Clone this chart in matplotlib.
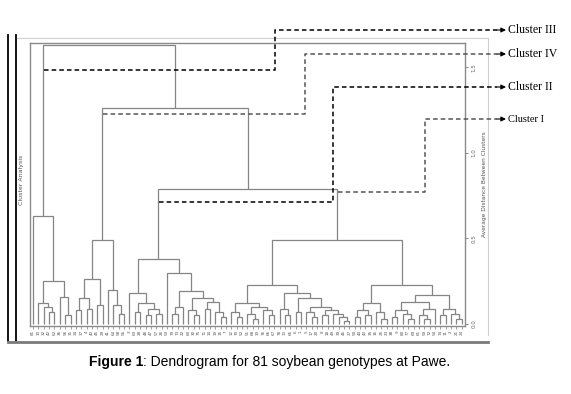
import matplotlib
matplotlib.use('Agg')
import matplotlib.pyplot as plt

# ---------------- data ----------------
leaf_labels = [81, 10, 32, 42, 62, 36, 56, 31, 34, 37, 4, 40, 45, 29, 41, 64, 58, 55, 3, 63,
               28, 48, 47, 57, 26, 53, 79, 73, 22, 60, 30, 75, 71, 14, 19, 15, 7, 12, 70, 52,
               51, 68, 33, 76, 66, 67, 78, 13, 65, 6, 1, 5, 17, 20, 8, 18, 49, 39, 46, 27,
               50, 44, 43, 35, 16, 25, 23, 38, 9, 80, 77, 69, 61, 59, 72, 54, 74, 11, 2, 21, 24]

# tree nodes: (merge height, left, right); ints are leaf positions
cluster3 = (0.63, 0, (0.25, (0.12, 1, (0.10, 2, (0.07, 3, 4))), (0.16, 5, (0.05, 6, 7))))
cluster4 = (0.49, (0.26, (0.15, (0.08, 8, 9), (0.09, 10, 11)), (0.11, 12, 13)),
            (0.20, 14, (0.11, 15, (0.06, 16, 17))))
c2_a = (0.18, 18, (0.12, (0.07, 19, 20), (0.09, (0.05, 21, 22), (0.06, 23, 24))))
c2_b = (0.30, 25, (0.19, (0.10, (0.06, 26, 27), 28),
                   (0.15, (0.08, 29, (0.05, 30, 31)),
                    (0.13, (0.09, 32, 33), (0.07, 34, (0.04, 35, 36))))))
cluster2 = (0.38, c2_a, c2_b)
c1_a = (0.23, (0.12, (0.07, 37, (0.04, 38, 39)),
               (0.10, (0.06, 40, (0.03, 41, 42)), (0.08, 43, (0.05, 44, 45)))),
        (0.18, (0.09, 46, (0.05, 47, 48)),
         (0.15, (0.07, 49, 50),
          (0.10, (0.07, 51, (0.04, 52, 53)),
           (0.08, (0.05, 54, 55), (0.06, 56, (0.04, 57, (0.02, 58, 59))))))))
c1_b = (0.23, (0.12, (0.08, (0.04, 60, 61), (0.05, 62, 63)), (0.07, 64, (0.03, 65, 66))),
        (0.17, (0.13, (0.08, (0.04, 67, 68), (0.06, 69, (0.03, 70, 71))),
                (0.09, (0.05, 72, (0.03, 73, 74)), 75)),
         (0.09, (0.05, 76, 77), (0.06, 78, (0.03, 79, 80)))))
cluster1 = (0.49, c1_a, c1_b)
upper = (0.79, cluster2, cluster1)
mid = (1.263, cluster4, upper)
root = (1.63, cluster3, mid)

cluster_names = ['Cluster III', 'Cluster IV', 'Cluster II', 'Cluster I']
cluster_nodes = [cluster3, cluster4, cluster2, cluster1]

# ---------------- figure ----------------
W, H = 571, 394
fig = plt.figure(figsize=(W / 100, H / 100), dpi=100)
ax = fig.add_axes([30 / W, 1 - 326 / H, 435 / W, 283 / H])
LINE = '#858585'

pos = {}
def draw(node):
    if isinstance(node, int):
        return float(node), 0.0
    h, l, r = node
    xl, hl = draw(l)
    xr, hr = draw(r)
    ax.plot([xl, xl, xr, xr], [hl, h, h, hr], color=LINE, lw=0.9,
            solid_capstyle='butt', solid_joinstyle='miter')
    x = (xl + xr) / 2
    pos[id(node)] = (x, h)
    return x, h

draw(root)

ax.set_xlim(-0.56, 80.6)
ax.set_ylim(-0.012, 1.643)
for s in ax.spines.values():
    s.set_color('#8a8a8a')
    s.set_linewidth(1.0)
ax.set_xticks(range(len(leaf_labels)))
ax.set_xticklabels([str(v) for v in leaf_labels], rotation=90, fontsize=3.0, color='#555555')
ax.tick_params(axis='x', length=2, width=0.5, color='#777777', pad=1)
ax.yaxis.tick_right()
ax.set_yticks([0.0, 0.5, 1.0, 1.5])
ax.set_yticklabels(['0.0', '0.5', '1.0', '1.5'], rotation=90, fontsize=4, color='#666666',
                   va='center')
ax.tick_params(axis='y', length=2.5, width=0.6, color='#777777', pad=2)
ax.yaxis.set_label_position('right')
ax.set_ylabel('Average Distance Between Clusters', fontsize=4.2, color='#555555',
              rotation=90, labelpad=4)

# ---------------- overlay (page decorations & cluster annotations) ----------------
ov = fig.add_axes([0, 0, 1, 1], facecolor='none')
ov.set_xlim(0, W)
ov.set_ylim(H, 0)
ov.axis('off')
ov.set_zorder(5)

ov.plot([8, 8], [35, 341], color='black', lw=1.3)
ov.plot([16, 16], [35, 341], color='black', lw=1.3)
ov.plot([17, 488], [38, 38], color='#d0d0d0', lw=0.8)
ov.plot([488, 488], [38, 335], color='#d0d0d0', lw=0.8)
ov.plot([8, 488], [341.5, 341.5], color='#7a7a7a', lw=2.0)
ov.text(22, 180, 'Cluster Analysis', rotation=90, fontsize=4.5, color='#555555',
        ha='center', va='center')

def to_px(x, y):
    d = ax.transData.transform((x, y))
    return ov.transData.inverted().transform(d)

# dashed annotation: (h of dashed run, corner x px, label y px, colour, font size)
ann = [(1.485, 275, 30, 'black', 8.5),
       (1.228, 305, 54, '#555555', 8.5),
       (0.713, 333, 87, 'black', 8.5),
       (0.772, 425, 119, '#555555', 7.5)]
for name, node, (hd, cx, ly, col, fs) in zip(cluster_names, cluster_nodes, ann):
    nx, nh = pos[id(node)]
    sx, sy = to_px(nx, hd)
    sx += 1
    ov.plot([sx, cx, cx, 497], [sy, sy, ly, ly], color=col, lw=1.1, ls=(0, (3, 2)))
    ov.annotate('', xy=(506, ly), xytext=(497, ly),
                arrowprops=dict(arrowstyle='-|>', color='black', lw=0.8,
                                mutation_scale=7, shrinkA=0, shrinkB=0))
    ov.text(508, ly, name, fontsize=fs, family='Liberation Serif', color='black',
            ha='left', va='center')

# caption
ov.text(143, 362, 'Figure 1', fontsize=10, fontweight='bold', family='Liberation Sans',
        ha='right', va='center')
ov.text(143, 362, ': Dendrogram for 81 soybean genotypes at Pawe.', fontsize=10,
        family='Liberation Sans', ha='left', va='center')

fig.savefig('out.png', dpi=100)
